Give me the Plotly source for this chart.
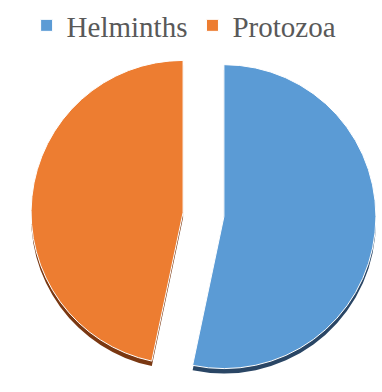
import plotly.graph_objects as go

# Share of parasite groups
labels = ["Helminths", "Protozoa"]
shares = [53.3, 46.7]

face_colors = ["#5b9bd5", "#ed7d31"]
edge_colors = ["#2a4665", "#7a3812"]

W, H = 382, 392
pull = 0.135
half = 172.5          # half size of the pie box in px (radius * (1 + pull))
cx = 203.5            # pie centre, px from left
cy_face = 214.5       # pie centre, px from top
cy_edge = 219.5       # dark rim drawn slightly lower


def dom(cx_px, cy_px):
    x0 = (cx_px - half) / W
    x1 = (cx_px + half) / W
    y0 = 1 - (cy_px + half) / H
    y1 = 1 - (cy_px - half) / H
    return dict(x=[max(0, x0), min(1, x1)], y=[max(0, y0), min(1, y1)])


fig = go.Figure()

# dark rim underneath, gives the tilted 3D look
fig.add_trace(go.Pie(
    labels=labels, values=shares, sort=False, direction="clockwise", rotation=0,
    pull=[pull, pull], textinfo="none", hoverinfo="skip", showlegend=False,
    marker=dict(colors=edge_colors, line=dict(color="white", width=0)),
    domain=dom(cx, cy_edge),
))

# top faces
fig.add_trace(go.Pie(
    labels=labels, values=shares, sort=False, direction="clockwise", rotation=0,
    pull=[pull, pull], textinfo="none",
    marker=dict(colors=face_colors, line=dict(color="white", width=1)),
    domain=dom(cx, cy_face),
))

fig.update_layout(
    width=W, height=H,
    margin=dict(l=0, r=0, t=0, b=0),
    paper_bgcolor="white", plot_bgcolor="white",
    showlegend=True,
    font=dict(family="Liberation Serif"),
    legend=dict(
        orientation="h", x=0.482, xanchor="center", y=1.0, yanchor="top",
        font=dict(family="Times New Roman", size=29, color="#595959"),
        bgcolor="rgba(0,0,0,0)", itemclick=False, itemdoubleclick=False,
    ),
)

fig.write_html("out.html")
